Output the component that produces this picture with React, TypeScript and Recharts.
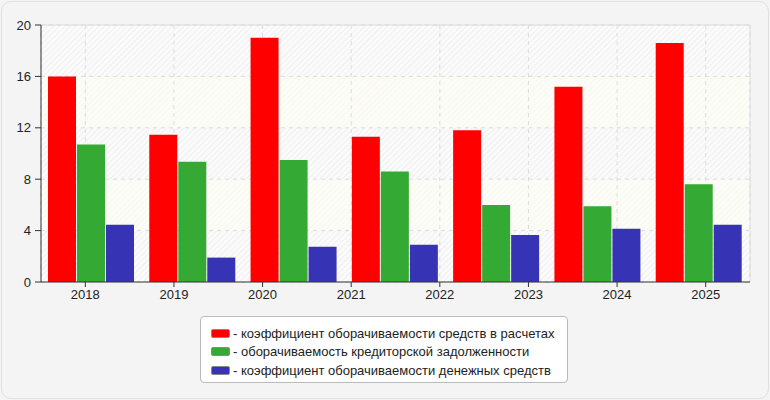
import {
  BarChart,
  Bar,
  XAxis,
  YAxis,
  CartesianGrid,
  ReferenceLine,
} from "recharts";

// tick labels along the bottom (8 of them)
const years = ["2018", "2019", "2020", "2021", "2022", "2023", "2024", "2025"];
// the bars come in 7 groups
const periods = ["1", "2", "3", "4", "5", "6", "7"];

const receivables = [16.0, 11.45, 19.0, 11.3, 11.8, 15.2, 18.6];
const payables = [10.7, 9.35, 9.5, 8.6, 6.0, 5.9, 7.6];
const cash = [4.45, 1.9, 2.75, 2.9, 3.65, 4.15, 4.45];

const yTicks = [0, 4, 8, 12, 16, 20];

const series = [
  { key: "receivables", color: "#ff0000", label: "коэффициент оборачиваемости средств в расчетах" },
  { key: "payables", color: "#34aa34", label: "оборачиваемость кредиторской задолженности" },
  { key: "cash", color: "#3634b4", label: "коэффициент оборачиваемости денежных средств" },
];

const data = periods.map((period, i) => ({
  period,
  receivables: receivables[i],
  payables: payables[i],
  cash: cash[i],
}));

const yearTicks = years.map((_, i) => i + 0.5);

const tickStyle = { fontFamily: "Arial, 'Liberation Sans', sans-serif", fontSize: 13, fill: "#222" };

function ChartLegend() {
  return (
    <div
      style={{
        position: "absolute",
        left: 200,
        top: 316,
        width: 368,
        height: 67,
        boxSizing: "border-box",
        background: "#fff",
        border: "1px solid #bbb",
        borderRadius: 4,
        padding: "7px 0 0 10px",
        fontFamily: "Arial, 'Liberation Sans', sans-serif",
        fontSize: 13,
        color: "#222",
      }}
    >
      {series.map((s) => (
        <div key={s.key} style={{ display: "flex", alignItems: "center", height: 18.5 }}>
          <span
            style={{
              display: "inline-block",
              width: 17,
              height: 7,
              background: s.color,
              border: "1px solid #888",
              borderRadius: 2,
              marginRight: 3,
            }}
          />
          <span>- {s.label}</span>
        </div>
      ))}
    </div>
  );
}

export default function App() {
  return (
    <div style={{ position: "relative", width: 770, height: 400, background: "#f4f4f4" }}>
      <style>{"body{margin:0}"}</style>
      <div
        style={{
          position: "absolute",
          left: 1,
          top: 1,
          width: 768,
          height: 398,
          boxSizing: "border-box",
          border: "1px solid #e0e0e0",
          borderRadius: 10,
        }}
      />
      <div style={{ position: "absolute", left: 0, top: 0 }}>
        <BarChart
          width={770}
          height={400}
          data={data}
          margin={{ top: 25, right: 20, bottom: 88, left: 0 }}
          barCategoryGap={7}
          barGap={1}
        >
          <defs>
            <pattern id="hatchGray" width="4" height="4" patternUnits="userSpaceOnUse" patternTransform="rotate(45)">
              <rect width="4" height="4" fill="#fbfbfb" />
              <line x1="0" y1="0" x2="0" y2="4" stroke="#ececec" strokeWidth="1.5" />
            </pattern>
            <pattern id="hatchIvory" width="4" height="4" patternUnits="userSpaceOnUse" patternTransform="rotate(45)">
              <rect width="4" height="4" fill="#fdfdf7" />
              <line x1="0" y1="0" x2="0" y2="4" stroke="#f7f7f0" strokeWidth="1.5" />
            </pattern>
          </defs>
          <CartesianGrid
            xAxisId="years"
            stroke="#dcdcdc"
            strokeDasharray="4 4"
            horizontalFill={["url(#hatchGray)", "url(#hatchIvory)"]}
          />
          <XAxis
            xAxisId="years"
            type="number"
            dataKey="yearPos"
            domain={[0, 8]}
            allowDataOverflow
            ticks={yearTicks}
            interval={0}
            tickFormatter={(v) => years[Math.round(v - 0.5)]}
            tick={tickStyle}
            axisLine={{ stroke: "#333" }}
            tickLine={{ stroke: "#333" }}
            tickSize={5}
            tickMargin={3}
            height={30}
          />
          <XAxis xAxisId="bars" dataKey="period" hide height={0} />
          <YAxis
            domain={[0, 20]}
            ticks={yTicks}
            interval={0}
            tick={tickStyle}
            axisLine={{ stroke: "#333" }}
            tickLine={{ stroke: "#333" }}
            tickSize={6}
            tickMargin={4}
            width={41}
          />
          <ReferenceLine xAxisId="years" y={20} stroke="#dcdcdc" />
          <ReferenceLine xAxisId="years" x={8} stroke="#dcdcdc" />
          {series.map((s) => (
            <Bar key={s.key} xAxisId="bars" dataKey={s.key} fill={s.color} isAnimationActive={false} />
          ))}
        </BarChart>
      </div>
      <ChartLegend />
    </div>
  );
}
